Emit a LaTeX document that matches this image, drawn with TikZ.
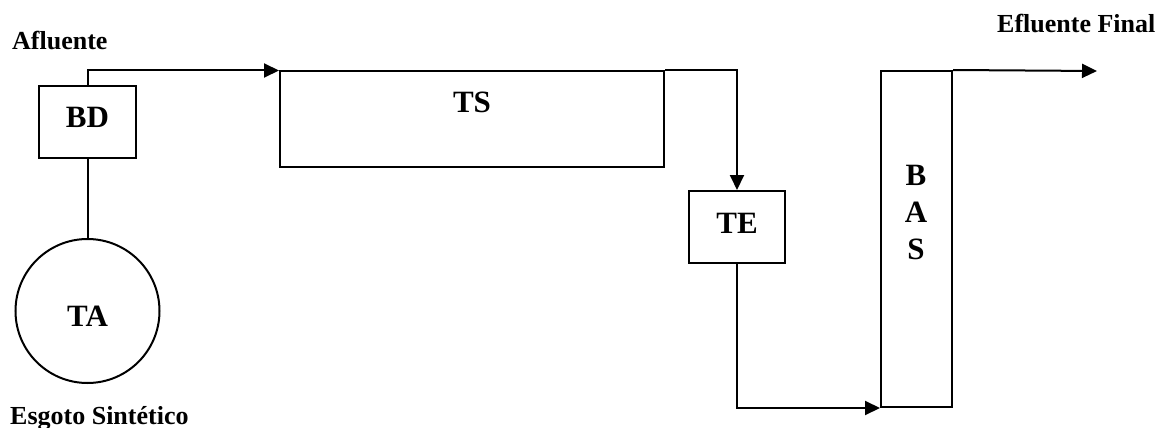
\documentclass[tikz,border=0pt]{standalone}
\usepackage{fontspec}
\setmainfont{Liberation Serif}
\usetikzlibrary{arrows.meta}
\begin{document}
\begin{tikzpicture}[x=1pt,y=-1pt,
  unit/.style={draw, line width=2pt, inner sep=0pt},
  big/.style={font=\fontsize{31}{31}\selectfont\bfseries, inner sep=0pt, anchor=base},
  small/.style={font=\fontsize{26}{26}\selectfont\bfseries, inner sep=0pt, anchor=base west},
  flow/.style={line width=2pt, -{Triangle[length=15pt,width=14pt]}},
  pipe/.style={line width=2pt}]
\useasboundingbox (0,0) rectangle (1159,428);
% units
\node[unit, minimum width=97pt, minimum height=72pt] (BD) at (87.5,122) {};
\node[unit, minimum width=384pt, minimum height=95.5pt] (TS) at (472,119.25) {};
\node[unit, minimum width=96pt, minimum height=72pt] (TE) at (737,227) {};
\node[unit, minimum width=71pt, minimum height=336pt] (BAS) at (916.5,239) {};
\node[unit, circle, minimum size=144pt] (TA) at (87.5,311) {};
% labels
\node[big] (lBD) at (87.5,127) {BD};
\node[big] (lTS) at (472,112) {TS};
\node[big] (lTE) at (737,233) {TE};
\node[big] (lTA) at (87.5,326) {TA};
\node[big] (lB) at (916,185) {B};
\node[big] (lA) at (916,222) {A};
\node[big] (lS) at (916,259) {S};
\node[small] (afl) at (12,49) {Afluente};
\node[small] (efl) at (997,33) {Efluente Final};
\node[small] (esg) at (10,424) {Esgoto Sintético};
% connectors
\coordinate (out) at (1097,71);
\draw[pipe] (TA.north) -- (BD.south);
\draw[flow] (BD.north) |- (TS.north west);
\draw[flow] (TS.north east) -| (TE.north);
\draw[flow] (TE.south) |- (BAS.south west);
\draw[flow] (BAS.north east) -- (out);
\end{tikzpicture}
\end{document}
